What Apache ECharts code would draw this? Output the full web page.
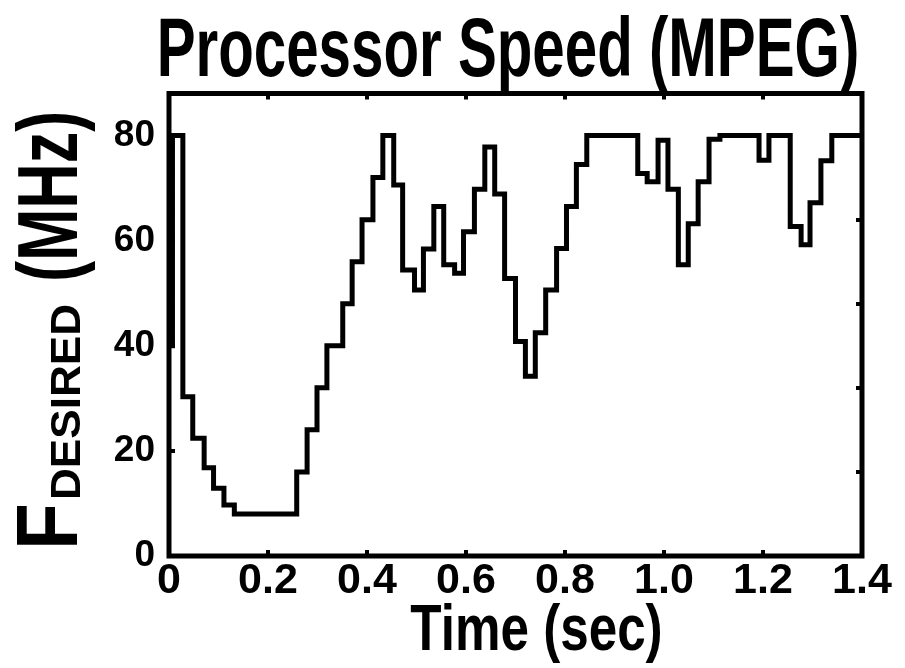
<!DOCTYPE html>
<html>
<head>
<meta charset="utf-8">
<script src="https://cdn.jsdelivr.net/npm/echarts@6/dist/echarts.min.js"></script>
<style>html,body{margin:0;padding:0;background:#fff;}#c{width:905px;height:668px;}</style>
</head>
<body>
<div id="c"></div>
<script>
// Step change times (sec) and the speed held from each time onward (MHz)
const times = [0, 0.007, 0.028, 0.048, 0.071, 0.090, 0.111, 0.132, 0.258, 0.279, 0.299, 0.319, 0.351, 0.370, 0.390, 0.412, 0.432, 0.454, 0.472, 0.496, 0.514, 0.535, 0.555, 0.577, 0.595, 0.617, 0.638, 0.658, 0.678, 0.700, 0.720, 0.740, 0.761, 0.783, 0.803, 0.823, 0.844, 0.947, 0.966, 0.988, 1.008, 1.029, 1.049, 1.069, 1.091, 1.113, 1.192, 1.212, 1.255, 1.277, 1.295, 1.317, 1.339, 1.4];
const speeds = [40, 80, 30.3, 22.4, 16.8, 12.9, 9.7, 8.0, 16, 24, 32, 40, 48, 56, 64, 72, 80, 70.6, 54.4, 50.6, 58.4, 66.5, 55.4, 53.8, 61.7, 69.8, 77.8, 68.9, 52.8, 40.8, 34.2, 42.5, 50.6, 58.5, 66.5, 74.5, 80, 72.8, 71.2, 79.1, 69.8, 55.4, 63.2, 71.2, 79.3, 80, 75.3, 80, 62.7, 59.2, 67.2, 75.2, 80, 80];
const xTickLabels = ['0', '0.2', '0.4', '0.6', '0.8', '1.0', '1.2', '1.4'];
const yTickLabels = ['0', '20', '40', '60', '80'];
const titleText = 'Processor Speed (MPEG)';
const xName = 'Time (sec)';
const yNameParts = ['F', 'DESIRED', '(MHz)'];

const FONT = "'Liberation Sans', Arial, sans-serif";
const data = times.map((t, i) => [t, speeds[i]]);
const chart = echarts.init(document.getElementById('c'), null, {renderer: 'canvas'});

const tickStyle = {show: true, inside: true, length: 6, lineStyle: {color: '#000', width: 4}};
const noLine = {show: false, onZero: false};

function txt(text, size, x, y, opts) {
  opts = opts || {};
  return {
    type: 'text', x: x, y: y, rotation: opts.rotation || 0,
    scaleX: opts.scaleX || 1, scaleY: 1, z: 100,
    style: {
      text: text, font: 'bold ' + size + 'px ' + FONT, fill: '#000',
      align: opts.align || 'left', verticalAlign: 'middle',
      textAlign: opts.align || 'left', textVerticalAlign: 'middle'
    }
  };
}

chart.setOption({
  animation: false,
  backgroundColor: '#fff',
  grid: {left: 169, right: 43, top: 93.5, bottom: 112, show: true, borderColor: '#000', borderWidth: 5, backgroundColor: 'transparent'},
  xAxis: [{
    type: 'value', position: 'bottom', min: 0, max: 1.4, interval: 0.2,
    axisLine: noLine, splitLine: {show: false},
    axisTick: tickStyle,
    axisLabel: {
      margin: 4, color: '#000', fontFamily: FONT, fontWeight: 'bold', fontSize: 43,
      formatter: v => xTickLabels[Math.round(v / 0.2)]
    }
  }, {
    type: 'value', position: 'top', min: 0, max: 1.4, interval: 0.2,
    axisLine: noLine, splitLine: {show: false},
    axisTick: tickStyle, axisLabel: {show: false}
  }],
  yAxis: [{
    type: 'value', position: 'left', min: 0, max: 88, interval: 20,
    axisLine: noLine, splitLine: {show: false},
    axisTick: tickStyle,
    axisLabel: {
      margin: 14, showMaxLabel: false, color: '#000', fontFamily: FONT, fontWeight: 'bold', fontSize: 37,
      formatter: v => { const i = Math.round(v / 20); return (Math.abs(v - i * 20) < 1e-6 && yTickLabels[i]) ? yTickLabels[i] : ''; }
    }
  }, {
    type: 'value', position: 'right', min: 0, max: 88, interval: 16,
    axisLine: noLine, splitLine: {show: false},
    axisTick: tickStyle, axisLabel: {show: false}
  }],
  graphic: {elements: [
    txt(titleText, 83, 508, 52.7, {align: 'center', scaleX: 0.702}),
    txt(xName, 64, 536.5, 632.8, {align: 'center', scaleX: 0.80}),
    txt(yNameParts[0], 88, 52.5, 550, {rotation: Math.PI / 2, scaleX: 0.87}),
    txt(yNameParts[1], 42, 68.4, 500, {rotation: Math.PI / 2, scaleX: 1.05}),
    txt(yNameParts[2], 85, 53.5, 282, {rotation: Math.PI / 2, scaleX: 0.74})
  ]},
  series: [{
    type: 'line', xAxisIndex: 0, yAxisIndex: 0,
    step: 'end', data: data, showSymbol: false, symbol: 'none',
    lineStyle: {color: '#000', width: 5, join: 'miter', cap: 'butt'},
    clip: false
  }]
});
</script>
</body>
</html>
